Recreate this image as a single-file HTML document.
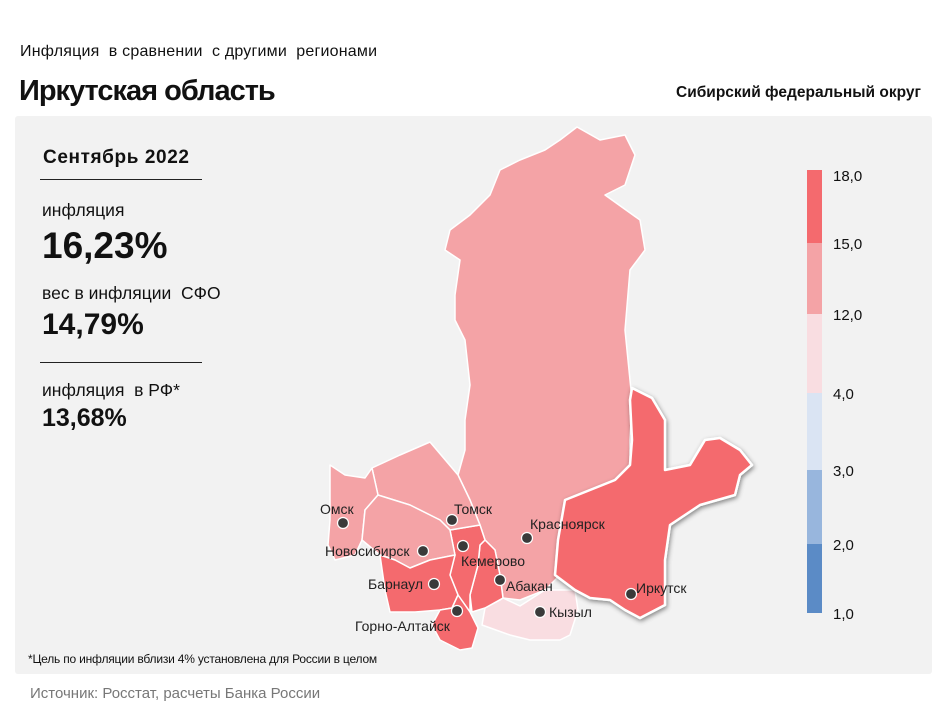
<!DOCTYPE html>
<html><head><meta charset="utf-8">
<style>
body{margin:0;background:#fff;font-family:"Liberation Sans",sans-serif;}
.t{position:absolute;color:#111;white-space:nowrap}
</style></head>
<body>
<div style="position:relative;width:950px;height:713px;overflow:hidden">
<div class="t" style="left:20px;top:43px;font-size:16px;letter-spacing:0.2px">Инфляция&nbsp; в сравнении&nbsp; с другими&nbsp; регионами</div>
<div class="t" style="left:19px;top:75px;font-size:29px;font-weight:bold;letter-spacing:-1px">Иркутская область</div>
<div class="t" style="left:676px;top:84px;font-size:15.5px;font-weight:bold">Сибирский федеральный округ</div>
<div style="position:absolute;left:15px;top:116px;width:917px;height:558px;background:#f2f2f2;border-radius:3px"></div>
<div class="t" style="left:43px;top:147px;font-size:19px;font-weight:bold;letter-spacing:0.6px">Сентябрь 2022</div>
<div style="position:absolute;left:40px;top:179px;width:162px;height:1px;background:#222"></div>
<div class="t" style="left:42px;top:200px;font-size:17.5px">инфляция</div>
<div class="t" style="left:42px;top:225px;font-size:37px;font-weight:bold">16,23%</div>
<div class="t" style="left:42px;top:283px;font-size:17.5px">вес в инфляции&nbsp; СФО</div>
<div class="t" style="left:42px;top:308px;font-size:30px;font-weight:bold">14,79%</div>
<div style="position:absolute;left:40px;top:362px;width:162px;height:1px;background:#222"></div>
<div class="t" style="left:42px;top:380px;font-size:17.5px">инфляция&nbsp; в РФ*</div>
<div class="t" style="left:42px;top:404px;font-size:25px;font-weight:bold">13,68%</div>
<div class="t" style="left:28px;top:652px;font-size:12px;letter-spacing:-0.2px">*Цель по инфляции вблизи 4% установлена для России в целом</div>
<div class="t" style="left:30px;top:685px;font-size:15px;color:#777">Источник: Росстат, расчеты Банка России</div>
<svg id="map" width="950" height="713" style="position:absolute;left:0;top:0">
<defs><filter id="sh" x="-10%" y="-10%" width="130%" height="130%"><feDropShadow dx="1" dy="2" stdDeviation="2.5" flood-color="#000" flood-opacity="0.45"/></filter></defs>
</svg>
</div>
<script>
const legendBreaks=[1,2,3,4,12,15,18];
const legendLabels=["1,0","2,0","3,0","4,0","12,0","15,0","18,0"];
const legendColors=["#5b8bc6","#98b6dd","#dae4f3","#f9dde1","#f4a3a6","#f46a6e"];
const regionNames=["Красноярский край","Иркутская область","Тыва","Хакасия","Кемерово","Томская область","Омская область","Новосибирская область","Алтайский край","Республика Алтай"];
const regionValues=[14.2,16.23,11.5,15.8,15.6,13.9,13.5,13.8,15.9,16.1];
const cityNames=["Омск","Томск","Красноярск","Новосибирск","Кемерово","Барнаул","Абакан","Горно-Алтайск","Кызыл","Иркутск"];
const shapes=[
"577,127 600,140 625,135 635,155 625,185 605,195 640,220 645,250 630,270 625,330 630,380 632,400 630,440 630,465 615,480 565,500 558,540 560,575 545,590 520,600 503,598 500,575 495,550 485,540 480,525 470,500 458,475 465,450 465,420 470,385 465,340 455,320 455,295 460,260 445,250 450,230 470,215 490,195 500,170 520,160 545,150 560,140",
"632,388 652,398 665,420 665,470 690,465 705,440 720,438 740,450 752,465 740,475 735,495 700,505 670,525 665,560 665,605 640,618 625,610 610,600 590,598 575,590 555,575 558,540 565,500 615,480 630,465 632,440 630,400",
"503,598 520,606 545,590 575,590 578,610 570,635 560,640 530,640 510,635 482,625 485,608 500,600",
"485,540 495,550 500,575 503,598 485,608 472,612 470,595 478,565 480,545",
"450,530 480,525 485,540 480,545 478,565 470,595 470,612 458,595 450,575 455,555",
"372,468 400,455 430,442 458,475 470,500 480,525 450,530 440,520 410,505 378,495",
"330,465 345,475 365,478 372,468 378,495 365,510 362,540 355,555 335,560 328,545 330,520",
"365,510 378,495 410,505 440,520 450,530 455,555 430,560 410,568 395,560 380,555 362,540",
"380,555 395,560 410,568 430,560 455,555 450,575 458,595 452,608 440,610 415,612 390,612 385,590",
"440,610 452,608 458,595 470,612 478,628 472,648 460,650 440,640 432,625"];
const cities=[[343,523,320,514],[452,520,454,514],[527,538,530,529],[423,551,325,556],[463,546,461,566],[434,584,368,589],[500,580,506,591],[457,611,355,631],[540,612,549,617],[631,594,636,593]];
const NS="http://www.w3.org/2000/svg";
const svg=document.getElementById('map');
function colorFor(v){for(let i=legendBreaks.length-2;i>=0;i--){if(v>=legendBreaks[i])return legendColors[i];}return legendColors[0];}
const segY=[613,544,470,393,314,243,170];
function yFor(i){return segY[i];}
for(let i=0;i<legendColors.length;i++){
  const r=document.createElementNS(NS,'rect');
  r.setAttribute('x',807);r.setAttribute('y',yFor(i+1));r.setAttribute('width',15);r.setAttribute('height',yFor(i)-yFor(i+1));
  r.setAttribute('fill',legendColors[i]);
  
  
  svg.appendChild(r);
}
for(let i=0;i<legendLabels.length;i++){
  const t=document.createElementNS(NS,'text');
  t.setAttribute('x',833);t.setAttribute('y',yFor(i)+(i==legendLabels.length-1?11:6));
  t.setAttribute('font-size',15);t.setAttribute('fill','#111');t.setAttribute('font-family','Liberation Sans, sans-serif');
  t.textContent=legendLabels[i];
  
  
  svg.appendChild(t);
}
const order=[0,2,3,4,5,6,7,8,9,1];
order.forEach(i=>{
  const p=document.createElementNS(NS,'polygon');
  p.setAttribute('points',shapes[i]);
  p.setAttribute('fill',colorFor(regionValues[i]));
  p.setAttribute('stroke','#fff');p.setAttribute('stroke-width',i==1?2.5:1.5);p.setAttribute('stroke-linejoin','round');
  if(i==1)p.setAttribute('filter','url(#sh)');
  
  
  const tt=document.createElementNS(NS,'title');tt.textContent=regionNames[i];p.appendChild(tt);
  svg.appendChild(p);
});
cities.forEach((c,i)=>{
  const d=document.createElementNS(NS,'circle');
  d.setAttribute('cx',c[0]);d.setAttribute('cy',c[1]);d.setAttribute('r',5.5);
  d.setAttribute('fill','#3a3a3a');d.setAttribute('stroke','#fff');d.setAttribute('stroke-width',1.2);
  
  
  svg.appendChild(d);
  const t=document.createElementNS(NS,'text');
  t.setAttribute('x',c[2]);t.setAttribute('y',c[3]);t.setAttribute('font-size',14);
  t.setAttribute('fill','#222');t.setAttribute('font-family','Liberation Sans, sans-serif');
  t.textContent=cityNames[i];
  
  
  svg.appendChild(t);
});
</script>
</body></html>
